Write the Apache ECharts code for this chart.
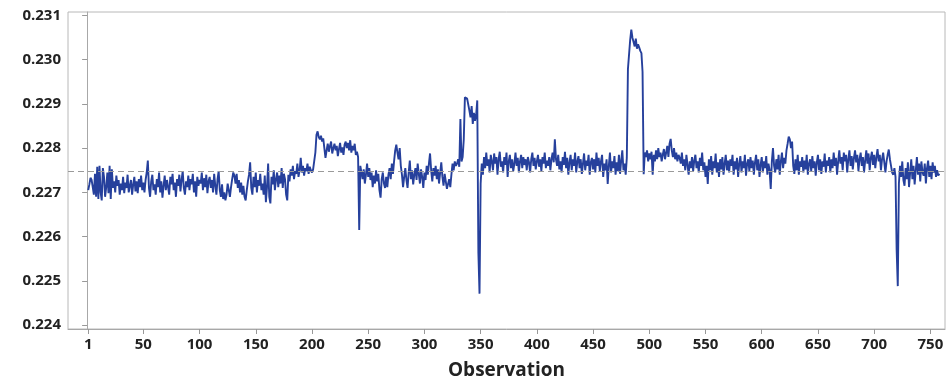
<!DOCTYPE html>
<html>
<head>
<meta charset="utf-8">
<script src="https://cdn.jsdelivr.net/npm/echarts@6/dist/echarts.min.js"></script>
<style>
html,body{margin:0;padding:0;background:#fff;}
#chart{width:951px;height:386px;}
</style>
</head>
<body>
<div id="chart"></div>
<script>
const xTickLabels = [1,50,100,150,200,250,300,350,400,450,500,550,600,650,700,750];
const yTickLabels = [0.224,0.225,0.226,0.227,0.228,0.229,0.230,0.231];
const meanValue = 0.22748;
const xAxisTitle = 'Observation';
const values = [
0.22705,0.22718,0.22733,0.22728,0.22712,0.22695,0.22742,0.22690,0.22758,0.22685,
0.22760,0.22700,0.22682,0.22755,0.22735,0.22690,0.22712,0.22745,0.22698,0.22760,
0.22685,0.22752,0.22710,0.22725,0.22700,0.22738,0.22715,0.22728,0.22695,0.22720,
0.22705,0.22735,0.22698,0.22722,0.22710,0.22740,0.22700,0.22715,0.22728,0.22695,
0.22718,0.22735,0.22702,0.22725,0.22698,0.22730,0.22712,0.22738,0.22705,0.22722,
0.22700,0.22728,0.22745,0.22772,0.22710,0.22690,0.22725,0.22740,0.22705,0.22718,
0.22695,0.22730,0.22712,0.22745,0.22700,0.22725,0.22688,0.22715,0.22738,0.22705,
0.22728,0.22712,0.22695,0.22735,0.22718,0.22742,0.22705,0.22722,0.22690,0.22730,
0.22715,0.22740,0.22702,0.22728,0.22748,0.22710,0.22695,0.22725,0.22712,0.22738,
0.22705,0.22730,0.22718,0.22742,0.22700,0.22725,0.22690,0.22735,0.22715,0.22728,
0.22720,0.22745,0.22705,0.22732,0.22712,0.22740,0.22698,0.22725,0.22735,0.22710,
0.22728,0.22700,0.22742,0.22715,0.22695,0.22730,0.22748,0.22705,0.22690,0.22718,
0.22685,0.22700,0.22682,0.22695,0.22720,0.22705,0.22690,0.22712,0.22730,0.22745,
0.22738,0.22720,0.22742,0.22710,0.22728,0.22700,0.22722,0.22695,0.22715,0.22690,
0.22682,0.22705,0.22725,0.22740,0.22768,0.22710,0.22695,0.22735,0.22712,0.22745,
0.22700,0.22728,0.22715,0.22742,0.22705,0.22720,0.22695,0.22738,0.22678,0.22712,
0.22765,0.22690,0.22675,0.22735,0.22718,0.22750,0.22705,0.22730,0.22745,0.22712,
0.22738,0.22720,0.22755,0.22710,0.22742,0.22730,0.22695,0.22682,0.22740,0.22725,
0.22752,0.22738,0.22760,0.22730,0.22748,0.22742,0.22765,0.22735,0.22750,0.22778,
0.22745,0.22760,0.22738,0.22755,0.22748,0.22765,0.22742,0.22758,0.22750,0.22745,
0.22752,0.22748,0.22790,0.22830,0.22838,0.22825,0.22820,0.22828,0.22815,0.22822,
0.22800,0.22778,0.22795,0.22810,0.22792,0.22805,0.22815,0.22788,0.22800,0.22810,
0.22795,0.22805,0.22782,0.22798,0.22812,0.22790,0.22802,0.22785,0.22808,0.22815,
0.22800,0.22812,0.22795,0.22818,0.22790,0.22805,0.22795,0.22810,0.22785,0.22792,
0.22780,0.22615,0.22760,0.22745,0.22730,0.22752,0.22720,0.22740,0.22765,0.22735,
0.22755,0.22728,0.22745,0.22712,0.22738,0.22720,0.22750,0.22725,0.22742,0.22705,
0.22688,0.22730,0.22745,0.22720,0.22710,0.22735,0.22712,0.22740,0.22755,0.22730,
0.22765,0.22742,0.22770,0.22795,0.22808,0.22790,0.22775,0.22800,0.22760,0.22740,
0.22712,0.22735,0.22755,0.22728,0.22710,0.22745,0.22772,0.22730,0.22750,0.22718,
0.22740,0.22755,0.22728,0.22765,0.22742,0.22720,0.22752,0.22735,0.22710,0.22745,
0.22728,0.22760,0.22740,0.22765,0.22788,0.22750,0.22725,0.22755,0.22738,0.22760,
0.22730,0.22752,0.22720,0.22745,0.22768,0.22735,0.22715,0.22742,0.22725,0.22708,
0.22704,0.22730,0.22712,0.22740,0.22765,0.22750,0.22770,0.22760,0.22765,0.22775,
0.22758,0.22866,0.22770,0.22780,0.22820,0.22915,0.22918,0.22912,0.22916,0.22885,
0.22870,0.22895,0.22855,0.22880,0.22862,0.22875,0.22908,0.22563,0.22471,0.22720,
0.22765,0.22740,0.22780,0.22755,0.22790,0.22760,0.22775,0.22745,0.22785,0.22770,
0.22750,0.22788,0.22765,0.22780,0.22740,0.22775,0.22792,0.22758,0.22770,0.22745,
0.22780,0.22762,0.22790,0.22735,0.22770,0.22785,0.22755,0.22775,0.22748,0.22765,
0.22790,0.22760,0.22778,0.22745,0.22770,0.22785,0.22755,0.22780,0.22762,0.22775,
0.22750,0.22780,0.22768,0.22745,0.22775,0.22790,0.22760,0.22778,0.22752,0.22770,
0.22785,0.22758,0.22775,0.22748,0.22780,0.22765,0.22790,0.22755,0.22772,0.22760,
0.22780,0.22750,0.22775,0.22790,0.22768,0.22820,0.22775,0.22760,0.22785,0.22752,
0.22770,0.22745,0.22780,0.22762,0.22792,0.22755,0.22778,0.22740,0.22768,0.22785,
0.22750,0.22775,0.22760,0.22790,0.22745,0.22770,0.22782,0.22755,0.22775,0.22742,
0.22765,0.22788,0.22750,0.22772,0.22760,0.22785,0.22740,0.22768,0.22778,0.22752,
0.22775,0.22745,0.22790,0.22760,0.22778,0.22748,0.22770,0.22785,0.22735,0.22765,
0.22750,0.22775,0.22719,0.22760,0.22790,0.22745,0.22770,0.22755,0.22782,0.22740,
0.22768,0.22748,0.22785,0.22742,0.22772,0.22795,0.22750,0.22765,0.22740,0.22778,
0.22979,0.22975,0.23045,0.23068,0.23050,0.23040,0.23030,0.23048,0.23025,0.23035,
0.23028,0.23020,0.23015,0.22973,0.22741,0.22790,0.22780,0.22795,0.22770,0.22788,
0.22775,0.22792,0.22740,0.22785,0.22770,0.22795,0.22775,0.22800,0.22780,0.22790,
0.22770,0.22785,0.22798,0.22775,0.22790,0.22805,0.22780,0.22810,0.22821,0.22795,
0.22780,0.22800,0.22775,0.22790,0.22770,0.22785,0.22778,0.22765,0.22790,0.22760,
0.22775,0.22750,0.22785,0.22762,0.22740,0.22770,0.22755,0.22780,0.22748,0.22772,
0.22785,0.22755,0.22770,0.22745,0.22778,0.22760,0.22790,0.22750,0.22768,0.22735,
0.22760,0.22719,0.22775,0.22750,0.22782,0.22740,0.22770,0.22755,0.22788,0.22745,
0.22768,0.22735,0.22775,0.22752,0.22780,0.22740,0.22765,0.22785,0.22750,0.22772,
0.22745,0.22775,0.22760,0.22785,0.22740,0.22770,0.22752,0.22778,0.22735,0.22765,
0.22782,0.22745,0.22770,0.22755,0.22785,0.22738,0.22765,0.22775,0.22748,0.22780,
0.22755,0.22772,0.22740,0.22768,0.22785,0.22750,0.22775,0.22735,0.22762,0.22780,
0.22745,0.22770,0.22755,0.22782,0.22740,0.22765,0.22750,0.22708,0.22770,0.22800,
0.22760,0.22745,0.22775,0.22752,0.22785,0.22740,0.22770,0.22790,0.22755,0.22778,
0.22765,0.22795,0.22810,0.22826,0.22820,0.22800,0.22815,0.22760,0.22742,0.22775,
0.22750,0.22785,0.22740,0.22770,0.22758,0.22780,0.22745,0.22772,0.22752,0.22785,
0.22740,0.22765,0.22775,0.22748,0.22782,0.22755,0.22770,0.22738,0.22768,0.22785,
0.22750,0.22775,0.22742,0.22770,0.22758,0.22788,0.22745,0.22772,0.22760,0.22780,
0.22745,0.22775,0.22755,0.22790,0.22760,0.22778,0.22740,0.22770,0.22795,0.22765,
0.22780,0.22750,0.22790,0.22770,0.22785,0.22745,0.22775,0.22795,0.22760,0.22782,
0.22752,0.22778,0.22795,0.22768,0.22785,0.22748,0.22775,0.22790,0.22760,0.22780,
0.22745,0.22772,0.22795,0.22765,0.22788,0.22750,0.22778,0.22792,0.22762,0.22785,
0.22755,0.22780,0.22798,0.22770,0.22785,0.22750,0.22775,0.22790,0.22768,0.22745,
0.22770,0.22785,0.22797,0.22775,0.22760,0.22745,0.22740,0.22755,0.22735,0.22570,
0.22488,0.22720,0.22760,0.22735,0.22770,0.22728,0.22715,0.22755,0.22730,0.22768,
0.22712,0.22745,0.22775,0.22730,0.22760,0.22718,0.22750,0.22780,0.22740,0.22765,
0.22725,0.22770,0.22745,0.22738,0.22765,0.22720,0.22755,0.22772,0.22735,0.22760,
0.22730,0.22768,0.22745,0.22760,0.22735,0.22750,0.22738,0.22742
];
const seriesData = values.map((v, i) => [i + 1, v]);

const chart = echarts.init(document.getElementById('chart'), null, {renderer: 'canvas'});
const FONT = '"Open Sans", "DejaVu Sans", sans-serif';
chart.setOption({
  animation: false,
  backgroundColor: '#ffffff',
  grid: {left: 68, right: 6, top: 12, bottom: 57, show: true, borderColor: '#b8b8b8', borderWidth: 1, backgroundColor: 'transparent'},
  xAxis: {
    type: 'value', min: -17, max: 763,
    name: xAxisTitle, nameLocation: 'middle', nameGap: 32,
    nameTextStyle: {fontFamily: FONT, fontWeight: 'bold', fontSize: 19, color: '#222'},
    axisLine: {show: true, lineStyle: {color: '#a8a8a8', width: 1}},
    axisTick: {show: true, length: 5, inside: false, customValues: xTickLabels, lineStyle: {color: '#999'}},
    axisLabel: {customValues: xTickLabels, fontFamily: FONT, fontWeight: 'bold', fontSize: 15, color: '#222', margin: 8},
    splitLine: {show: false}
  },
  yAxis: {
    type: 'value', min: 0.22391, max: 0.23108,
    axisLine: {show: true, lineStyle: {color: '#a8a8a8', width: 1}},
    axisTick: {show: true, length: 5, inside: false, customValues: yTickLabels, lineStyle: {color: '#999'}},
    axisLabel: {customValues: yTickLabels, formatter: v => Number(v).toFixed(3), fontFamily: FONT, fontWeight: 'bold', fontSize: 15, color: '#222', margin: 7},
    splitLine: {show: false}
  },
  series: [{
    type: 'line',
    data: seriesData,
    showSymbol: false,
    symbol: 'none',
    lineStyle: {color: '#26409c', width: 1.9},
    markLine: {
      silent: true, symbol: ['none', 'none'], label: {show: false}, precision: 6,
      lineStyle: {color: '#9a9a9a', type: [6, 4], width: 1},
      data: [{yAxis: meanValue}]
    }
  }]
});
</script>
</body>
</html>
